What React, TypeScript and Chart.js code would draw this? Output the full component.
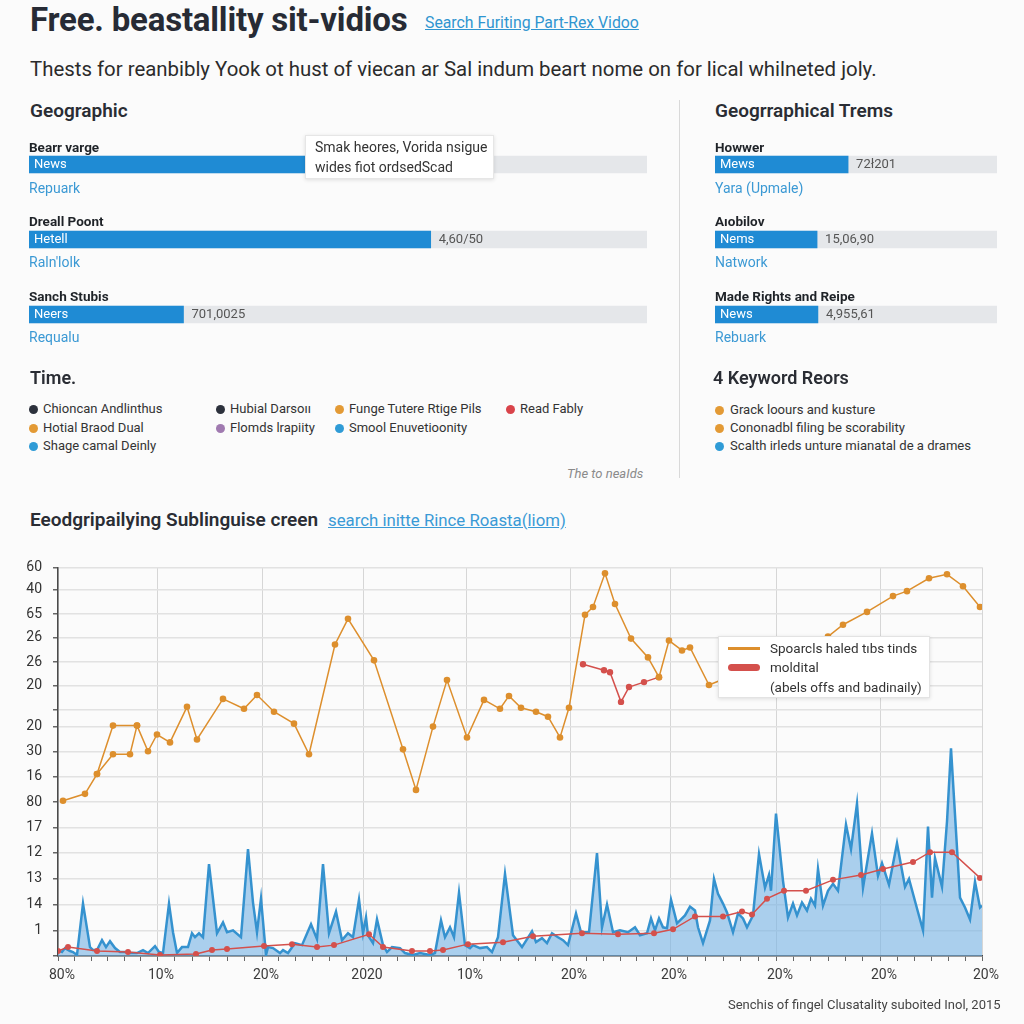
import React, { useEffect, useRef } from "react";
import { Chart, registerables } from "chart.js";
Chart.register(...registerables);

// ---------------- data ----------------
const LEFT_ROWS = ["Bearr varge", "Dreall Poont", "Sanch Stubis"];
const LEFT_SUBS = ["Repuark", "Raln'lolk", "Requalu"];
const LEFT_INNER = ["News", "Hetell", "Neers"];
const LEFT_VALUES = [46, 65, 25];
const LEFT_VALUE_LABELS = ["", "4,60/50", "701,0025"];

const RIGHT_ROWS = ["Howwer", "A\u0131obilov", "Made Rights and Reipe"];
const RIGHT_SUBS = ["Yara (Upmale)", "Natwork", "Rebuark"];
const RIGHT_INNER = ["Mews", "Nems", "News"];
const RIGHT_VALUES = [47.2, 36.2, 36.5];
const RIGHT_VALUE_LABELS = ["72\u0142201", "15,06,90", "4,955,61"];

const TIME_LABELS = [
  "Chioncan Andlinthus", "Hubial Darso\u0131\u0131", "Funge Tutere Rtige Pils", "Read Fably",
  "Hotial Braod Dual", "Flomds lrapiity", "Smool Enuvetioonity",
  "Shage camal Deinly",
];
const TIME_COLORS = [
  "#2c313c", "#2c313c", "#e39a35", "#d9434a",
  "#e39a35", "#a07ab0", "#2f9bd6",
  "#2f9bd6",
];
const KEYWORD_LABELS = [
  "Grack loours and kusture",
  "Cononadbl filing be scorability",
  "Scalth irleds unture mianatal de a drames",
];
const KEYWORD_COLORS = ["#e39a35", "#e39a35", "#2f9bd6"];

const LEGEND_LABELS = ["Spoarcls haled t\u0131bs tinds", "moldital", "(abels offs and badinaily)"];

// main chart axes
const X_MAJOR_POS = [0, 99, 204, 305, 408, 512, 612, 718, 822, 924];
const X_TICK_LABELS = ["80%", "10%", "20%", "2020", "10%", "20%", "20%", "20%", "20%", "20%"];
const Y_TICK_POS = [0, 26, 52, 78.3, 104.3, 130, 155.5, 181.3, 206.7, 231.7, 248.7, 273.3, 297.3, 321.7, 345.7, 370.3, 393];
const Y_TICK_LABELS = ["", "1", "14", "13", "12", "17", "80", "16", "30", "20", "", "20", "26", "26", "65", "40", "60"];

// orange series
const ORANGE_X = [5, 27, 39, 55, 79, 90, 99, 112, 129, 139, 165, 186, 199, 216, 236, 251, 277, 290, 316, 345, 358, 375, 389, 409, 426, 442, 451, 463, 478, 490, 502, 511, 527, 535, 547, 557, 573, 590, 601, 611, 624, 632, 651, 692, 732, 770, 785, 809, 835, 849, 871, 889, 905, 922];
const ORANGE_Y = [157, 164, 184, 233, 233, 207, 224, 216, 252, 219, 260, 250, 264, 247, 235, 204, 315, 341, 299, 209, 168, 232, 279, 221, 259, 250, 263, 251, 247, 242, 221, 251, 345, 353, 387, 356, 321, 302, 282, 319, 309, 312, 274, 291, 308, 323, 335, 348, 364, 369, 382, 386, 374, 353];
const ORANGE_BRANCH_X = [39, 55, 72, 79];
const ORANGE_BRANCH_Y = [184, 204, 204, 233];

// red series
const RED_UPPER_X = [525, 546, 552, 563, 571, 586, 601];
const RED_UPPER_Y = [295, 289, 287, 257, 272, 277, 282];
const RED_LOWER_X = [0, 10, 39, 70, 102, 138, 154, 169, 206, 234, 259, 276, 311, 325, 354, 372, 385, 410, 445, 475, 524, 560, 596, 615, 637, 665, 684, 694, 709, 726, 748, 775, 803, 825, 855, 872, 894, 922];
const RED_LOWER_Y = [5, 9, 5, 4, 1, 2, 6, 7, 10, 12, 9, 11, 22, 9, 5, 5, 6, 12, 14, 20, 23, 22, 23, 27, 40, 40, 45, 42, 58, 66, 66, 77, 82, 88, 95, 105, 105, 79];

// blue area series
const BLUE_X = [0, 4, 7, 12, 15, 19, 25, 32, 35, 39, 44, 48, 52, 57, 62, 67, 72, 79, 85, 90, 97, 101, 105, 111, 115, 119, 124, 130, 134, 137, 141, 145, 151, 159, 165, 169, 175, 183, 190, 195, 199, 203, 208, 210, 215, 222, 225, 230, 237, 244, 253, 259, 265, 271, 278, 284, 290, 295, 301, 305, 308, 310, 315, 319, 325, 329, 334, 342, 347, 355, 362, 372, 377, 383, 387, 392, 396, 401, 407, 412, 415, 422, 429, 434, 440, 447, 455, 464, 474, 478, 484, 489, 494, 500, 505, 510, 518, 523, 531, 539, 544, 549, 555, 562, 570, 577, 582, 589, 593, 597, 601, 605, 609, 613, 619, 622, 627, 632, 637, 640, 645, 652, 656, 660, 665, 669, 675, 680, 685, 689, 695, 701, 707, 711, 713, 718, 725, 730, 735, 739, 744, 749, 753, 757, 760, 765, 770, 775, 780, 788, 793, 799, 805, 814, 820, 824, 831, 839, 847, 851, 859, 865, 870, 874, 877, 884, 889, 893, 898, 902, 907, 912, 917, 922, 924];
const BLUE_Y = [6, 4, 8, 5, 4, 1, 53, 9, 6, 6, 16, 9, 15, 8, 4, 4, 3, 3, 6, 3, 10, 4, 3, 53, 24, 3, 9, 9, 23, 19, 23, 19, 93, 23, 34, 24, 26, 19, 108, 54, 24, 58, 1, 9, 8, 3, 6, 3, 13, 11, 32, 17, 93, 23, 45, 16, 23, 19, 57, 23, 39, 21, 13, 37, 11, 4, 9, 8, 3, 1, 3, 1, 3, 36, 19, 29, 19, 64, 11, 8, 11, 8, 9, 4, 19, 83, 21, 9, 25, 14, 18, 13, 23, 19, 16, 11, 43, 24, 24, 104, 29, 52, 24, 26, 24, 29, 21, 23, 38, 26, 38, 29, 28, 57, 33, 36, 41, 50, 46, 29, 13, 36, 78, 63, 53, 44, 24, 43, 38, 29, 41, 103, 69, 82, 66, 144, 76, 39, 53, 41, 54, 46, 58, 51, 88, 51, 66, 73, 66, 133, 108, 154, 69, 124, 81, 94, 72, 114, 70, 78, 48, 26, 131, 59, 99, 70, 136, 210, 126, 59, 49, 37, 75, 49, 51];

// ---------------- helpers ----------------
const FONT = 'Roboto, "Noto Sans", "Liberation Sans", sans-serif';

function T(props: any) {
  const { x, y, size = 14, weight = 400, color = "#333", italic = false, underline = false, ls, family = FONT, children } = props;
  return (
    <div
      style={{
        position: "absolute",
        left: x,
        top: y - size * 0.6,
        fontSize: size,
        lineHeight: `${size * 1.2}px`,
        fontWeight: weight,
        color,
        fontFamily: family,
        fontStyle: italic ? "italic" : "normal",
        textDecoration: underline ? "underline" : "none",
        whiteSpace: "nowrap",
        letterSpacing: ls,
      }}
    >
      {children}
    </div>
  );
}

function Dot({ x, y, color, d = 9 }: any) {
  return (
    <div
      style={{
        position: "absolute",
        left: x - d / 2,
        top: y - d / 2,
        width: d,
        height: d,
        borderRadius: "50%",
        background: color,
      }}
    />
  );
}

function BarPanel({ left, top, width, height, rows, values, inner, valueLabels }: any) {
  const ref = useRef<HTMLCanvasElement | null>(null);
  useEffect(() => {
    const labelPlugin = {
      id: "barLabels",
      afterDatasetsDraw(chart: any) {
        const ctx = chart.ctx;
        const meta = chart.getDatasetMeta(0);
        ctx.save();
        ctx.font = `13px ${FONT}`;
        ctx.textBaseline = "middle";
        meta.data.forEach((bar: any, i: number) => {
          const p = bar.getProps(["x", "y", "base"], true);
          ctx.fillStyle = "#ffffff";
          ctx.fillText(inner[i], p.base + 5, p.y + 0.5);
          ctx.fillStyle = "#555";
          ctx.fillText(valueLabels[i], p.x + 8, p.y + 0.5);
        });
        ctx.restore();
      },
    };
    const chart = new Chart(ref.current as HTMLCanvasElement, {
      type: "bar",
      data: {
        labels: rows,
        datasets: [
          { data: values, backgroundColor: "#1f8bd4", barThickness: 17, grouped: false, order: 0 } as any,
          { data: rows.map(() => 100), backgroundColor: "#e5e7ea", barThickness: 17, grouped: false, order: 1 } as any,
        ],
      },
      options: {
        indexAxis: "y",
        responsive: false,
        animation: false,
        events: [],
        layout: { padding: 0 },
        plugins: { legend: { display: false }, tooltip: { enabled: false } },
        scales: { x: { display: false, min: 0, max: 100 }, y: { display: false } },
      },
      plugins: [labelPlugin],
    });
    return () => chart.destroy();
  }, []);
  return <canvas ref={ref} width={width} height={height} style={{ position: "absolute", left, top }} />;
}

function MainChart() {
  const ref = useRef<HTMLCanvasElement | null>(null);
  useEffect(() => {
    const pts = (xs: number[], ys: number[]) => xs.map((x, i) => ({ x, y: ys[i] }));
    const minor: number[] = [];
    for (let i = 0; i < X_MAJOR_POS.length - 1; i++) {
      const a = X_MAJOR_POS[i], b = X_MAJOR_POS[i + 1];
      for (let k = 1; k < 6; k++) minor.push(a + ((b - a) * k) / 6);
    }
    const allX = [...X_MAJOR_POS, ...minor].sort((a, b) => a - b);
    const ORANGE = "#dd8f2d";
    const RED = "#d4504c";
    const lineDs = (label: string, data: any[], color: string, r: number) => ({
      label,
      data,
      borderColor: color,
      backgroundColor: color,
      pointBackgroundColor: color,
      pointBorderColor: color,
      pointRadius: r,
      pointBorderWidth: 0,
      borderWidth: 1.5,
      tension: 0,
      fill: false,
    });
    const chart = new Chart(ref.current as HTMLCanvasElement, {
      type: "line",
      data: {
        datasets: [
          lineDs(LEGEND_LABELS[0], pts(ORANGE_X, ORANGE_Y), ORANGE, 3.3),
          lineDs("branch", pts(ORANGE_BRANCH_X, ORANGE_BRANCH_Y), ORANGE, 3.3),
          lineDs(LEGEND_LABELS[1], pts(RED_UPPER_X, RED_UPPER_Y), RED, 3.2),
          lineDs("low", pts(RED_LOWER_X, RED_LOWER_Y), RED, 3),
          {
            label: "area",
            data: pts(BLUE_X, BLUE_Y),
            borderColor: "#3592cf",
            backgroundColor: "rgba(116,178,228,0.6)",
            borderWidth: 2.5,
            pointRadius: 0,
            tension: 0,
            fill: "origin",
          } as any,
        ],
      },
      options: {
        responsive: false,
        animation: false,
        events: [],
        layout: { padding: { top: 15, right: 42, left: 0, bottom: 0 } },
        plugins: { legend: { display: false }, tooltip: { enabled: false } },
        scales: {
          x: {
            type: "linear",
            min: 0,
            max: 924,
            afterBuildTicks: (axis: any) => {
              axis.ticks = allX.map((v) => ({ value: v }));
            },
            afterFit: (s: any) => {
              s.height = 44;
            },
            ticks: {
              autoSkip: false,
              maxRotation: 0,
              padding: 6,
              labelOffset: 4,
              color: "#3a3a3a",
              font: { size: 14, family: FONT },
              callback: (value: any) => {
                const i = X_MAJOR_POS.indexOf(value);
                return i >= 0 ? X_TICK_LABELS[i] : "";
              },
            },
            grid: {
              color: (c: any) => (c.tick && X_MAJOR_POS.includes(c.tick.value) ? "#d6d6d6" : "rgba(0,0,0,0)"),
              tickColor: "#666",
              tickLength: 5,
              lineWidth: 1,
            },
            border: { display: true, color: "#4a4a4a", width: 1.5 },
          },
          y: {
            type: "linear",
            min: 0,
            max: 393,
            afterBuildTicks: (axis: any) => {
              axis.ticks = Y_TICK_POS.map((v) => ({ value: v }));
            },
            afterFit: (s: any) => {
              s.width = 58;
            },
            ticks: {
              autoSkip: false,
              padding: 11,
              color: "#333",
              font: { size: 14, family: FONT },
              callback: (_v: any, i: number) => Y_TICK_LABELS[i],
            },
            grid: { color: "#e2e2e2", tickColor: "#666", tickLength: 5, lineWidth: 1.5 },
            border: { display: true, color: "#4a4a4a", width: 1.5 },
          },
        },
      },
    });
    return () => chart.destroy();
  }, []);
  return <canvas ref={ref} width={1024} height={452} style={{ position: "absolute", left: 0, top: 548 }} />;
}

export default function App() {
  const timeCols = [33, 220, 339, 510];
  const timeRows = [409, 428, 446];
  const timePos = [
    [0, 0], [1, 0], [2, 0], [3, 0],
    [0, 1], [1, 1], [2, 1],
    [0, 2],
  ];
  const kwRows = [410, 428, 446];
  return (
    <div
      style={{
        position: "absolute",
        left: 0,
        top: 0,
        width: 1024,
        height: 1024,
        overflow: "hidden",
        background: "#fbfbfb",
        fontFamily: FONT,
      }}
    >
      <BarPanel left={29} top={127} width={618} height={225} rows={LEFT_ROWS} values={LEFT_VALUES} inner={LEFT_INNER} valueLabels={LEFT_VALUE_LABELS} />
      <BarPanel left={715} top={127} width={282} height={225} rows={RIGHT_ROWS} values={RIGHT_VALUES} inner={RIGHT_INNER} valueLabels={RIGHT_VALUE_LABELS} />
      <MainChart />

      {/* header */}
      <T x={30} y={20} size={33} weight={700} color="#272b35" ls="-0.2px">Free. beastallity sit-vidios</T>
      <T x={425} y={23} size={15.8} color="#2f95d0" underline>Search Furiting Part-Rex Vidoo</T>
      <T x={30} y={69} size={20.4} color="#2b2b2b">Thests for reanbibly Yook ot hust of viecan ar Sal indum beart nome on for lical whilneted joly.</T>

      {/* separator */}
      <div style={{ position: "absolute", left: 679, top: 100, width: 1, height: 378, background: "#d9d9d9" }} />

      {/* left panel */}
      <T x={30} y={111} size={19} weight={600} color="#2a2d34">Geographic</T>
      {LEFT_ROWS.map((r, i) => (
        <T key={"lr" + i} x={29} y={147 + i * 74.5} size={13.5} weight={700} color="#1f2328">{r}</T>
      ))}
      {LEFT_SUBS.map((r, i) => (
        <T key={"ls" + i} x={29} y={188 + i * 74.5} size={14} color="#3b99d4">{r}</T>
      ))}
      <div
        style={{
          position: "absolute",
          left: 305,
          top: 135,
          width: 189,
          height: 44,
          background: "#fff",
          border: "1px solid #e6e6e6",
          boxShadow: "0 1px 4px rgba(0,0,0,0.12)",
          boxSizing: "border-box",
        }}
      />
      <T x={315} y={147} size={14} color="#333">Smak heores, Vorida nsigue</T>
      <T x={315} y={167} size={14} color="#333">wides fiot ordsedScad</T>

      {/* right panel */}
      <T x={715} y={111} size={19} weight={600} color="#2a2d34">Geogrraphical Trems</T>
      {RIGHT_ROWS.map((r, i) => (
        <T key={"rr" + i} x={715} y={147 + i * 74.5} size={13.5} weight={700} color="#1f2328">{r}</T>
      ))}
      {RIGHT_SUBS.map((r, i) => (
        <T key={"rs" + i} x={715} y={188 + i * 74.5} size={14} color="#3b99d4">{r}</T>
      ))}

      {/* time legend */}
      <T x={30} y={378} size={18} weight={600} color="#2a2d34">Time.</T>
      {TIME_LABELS.map((l, i) => {
        const [c, r] = timePos[i];
        return (
          <React.Fragment key={"t" + i}>
            <Dot x={timeCols[c]} y={timeRows[r]} color={TIME_COLORS[i]} />
            <T x={timeCols[c] + 10} y={timeRows[r]} size={13} color="#333">{l}</T>
          </React.Fragment>
        );
      })}
      <T x={567} y={474} size={13} italic color="#8a8a8a">The to neaIds</T>

      <T x={713} y={378} size={18} weight={600} color="#2a2d34">4 Keyword Reors</T>
      {KEYWORD_LABELS.map((l, i) => (
        <React.Fragment key={"k" + i}>
          <Dot x={719} y={kwRows[i]} color={KEYWORD_COLORS[i]} />
          <T x={730} y={kwRows[i]} size={13.1} color="#333">{l}</T>
        </React.Fragment>
      ))}

      {/* chart heading */}
      <T x={30} y={520} size={19} weight={600} color="#2a2d34">Eeodgripailying Sublinguise creen</T>
      <T x={328} y={520} size={16.8} color="#3a9ad6" underline>search initte Rince Roasta(liom)</T>

      {/* chart legend box */}
      <div
        style={{
          position: "absolute",
          left: 718,
          top: 636,
          width: 212,
          height: 62,
          background: "#fff",
          border: "1px solid #e3e3e3",
          boxShadow: "0 1px 4px rgba(0,0,0,0.12)",
          boxSizing: "border-box",
        }}
      />
      <div style={{ position: "absolute", left: 728, top: 647, width: 32, height: 3, background: "#dd8f2d" }} />
      <div style={{ position: "absolute", left: 728, top: 664, width: 32, height: 7, borderRadius: 4, background: "#d4504c" }} />
      <T x={770} y={648} size={13.5} color="#333">{LEGEND_LABELS[0]}</T>
      <T x={770} y={667} size={13.5} color="#333">{LEGEND_LABELS[1]}</T>
      <T x={770} y={687} size={13.5} color="#333">{LEGEND_LABELS[2]}</T>

      {/* footnote */}
      <T x={728} y={1005} size={13} color="#444">Senchis of fingel Clusatality suboited Inol, 2015</T>
    </div>
  );
}
